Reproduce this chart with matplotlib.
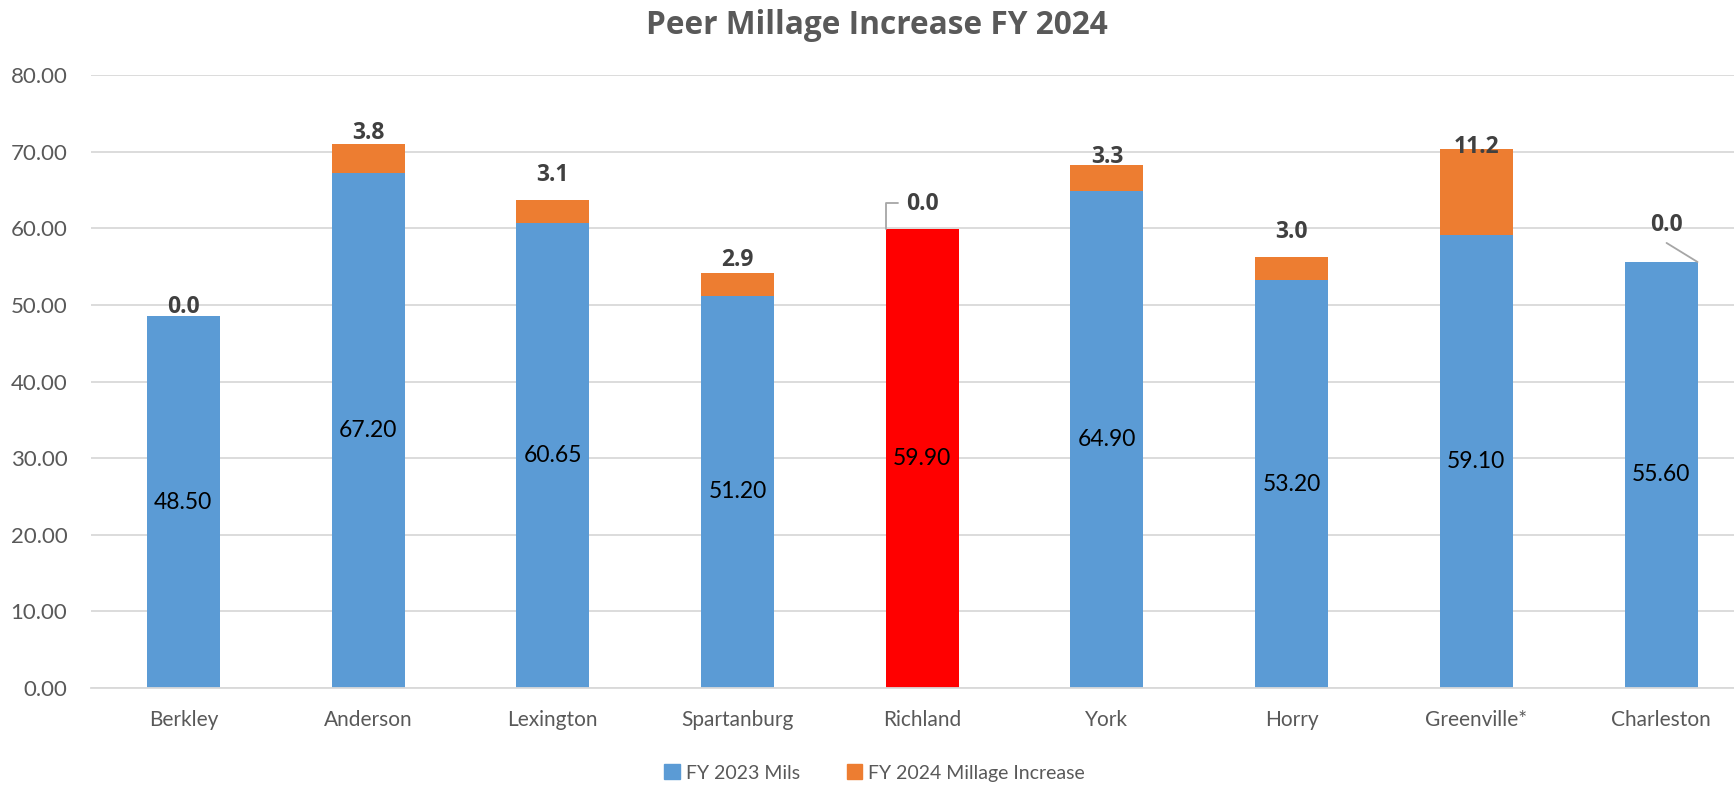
import numpy as np
import matplotlib.pyplot as plt
from matplotlib.transforms import offset_copy
from matplotlib.patches import Patch

plt.rcParams['font.family'] = ['Lato', 'DejaVu Sans']
bold_font = ['Open Sans', 'DejaVu Sans']

counties = ['Berkley', 'Anderson', 'Lexington', 'Spartanburg', 'Richland',
            'York', 'Horry', 'Greenville*', 'Charleston']
mils_2023 = [48.50, 67.20, 60.65, 51.20, 59.90, 64.90, 53.20, 59.10, 55.60]
increase_2024 = [0.0, 3.8, 3.1, 2.9, 0.0, 3.3, 3.0, 11.2, 0.0]
highlight = 'Richland'

# label offsets above the stack top, in points (dx, dy)
label_off = [(0, 6.8), (0, 7.9), (0, 17.6), (0, 9.7), (0, 18.0),
             (0, 6.0), (0, 18.3), (0, 1.7), (3.6, 26.6)]

blue = '#5B9BD5'
orange = '#ED7D31'
red = '#FF0000'
grey_txt = '#595959'

fig = plt.figure(figsize=(17.34, 7.86), dpi=100)
ax = fig.add_axes([91/1734, 98/786, 1 - 91/1734, (688 - 75)/786])

x = np.arange(len(counties))
w = 0.395
cols = [red if c == highlight else blue for c in counties]
ax.bar(x, mils_2023, width=w, color=cols, zorder=2)
ax.bar(x, increase_2024, width=w, bottom=mils_2023, color=orange, zorder=2)

ax.set_xlim(-0.5, 8.395)
ax.set_ylim(0, 80)
ax.set_yticks(np.arange(0, 81, 10))
ax.set_yticklabels(['%.2f' % v for v in np.arange(0, 81, 10)])
ax.set_xticks(x)
ax.set_xticklabels(counties)
ax.tick_params(axis='y', length=0, pad=17, labelsize=16, labelcolor=grey_txt)
ax.tick_params(axis='x', length=0, pad=16, labelsize=15, labelcolor=grey_txt)
ax.grid(axis='y', color='#D9D9D9', linewidth=1.3, zorder=0)
for s in ['top', 'right', 'left']:
    ax.spines[s].set_visible(False)
ax.spines['bottom'].set_color('#D9D9D9')
ax.spines['bottom'].set_linewidth(1.3)

# values inside the blue bars
for i, v in enumerate(mils_2023):
    ax.text(x[i], v / 2, '%.2f' % v, ha='center', va='center', fontsize=16.5, color='black', zorder=3)

# increase labels on top
for i, inc in enumerate(increase_2024):
    top = mils_2023[i] + inc
    dx, dy = label_off[i]
    tr = offset_copy(ax.transData, fig=fig, x=dx, y=dy, units='points')
    ax.text(x[i], top, '%.1f' % inc, transform=tr, ha='center', va='center', family=bold_font,
            fontsize=16.5, fontweight='bold', color='#404040', zorder=4)

# leader lines for the moved labels
ri = counties.index(highlight)
rtop = mils_2023[ri] + increase_2024[ri]
ax.annotate('', xy=(x[ri] - w/2, rtop), xytext=(9, 18.5), textcoords='offset points',
            arrowprops=dict(arrowstyle='-', color='#A6A6A6', lw=1.3, shrinkA=0, shrinkB=0,
                            connectionstyle='angle,angleA=180,angleB=90,rad=0'))
ci = len(counties) - 1
ctop = mils_2023[ci] + increase_2024[ci]
ax.annotate('', xy=(x[ci] + w/2, ctop), xytext=(-22.3, 13.7), textcoords='offset points',
            arrowprops=dict(arrowstyle='-', color='#A6A6A6', lw=1.3, shrinkA=0, shrinkB=0))

fig.text(0.5 + 10/1734, 1 - 25/786, 'Peer Millage Increase FY 2024', ha='center', va='center',
         family=bold_font, fontsize=22.8, fontweight='bold', color=grey_txt)

handles = [Patch(color=blue, label='FY 2023 Mils'), Patch(color=orange, label='FY 2024 Millage Increase')]
fig.legend(handles=handles, loc='center', bbox_to_anchor=(874.5/1734, 1 - 773/786), ncol=2,
           frameon=False, fontsize=14, labelcolor=grey_txt, handlelength=0.8, handleheight=0.8,
           handletextpad=0.3, columnspacing=2.4)

fig.savefig('out.png', dpi=100)
